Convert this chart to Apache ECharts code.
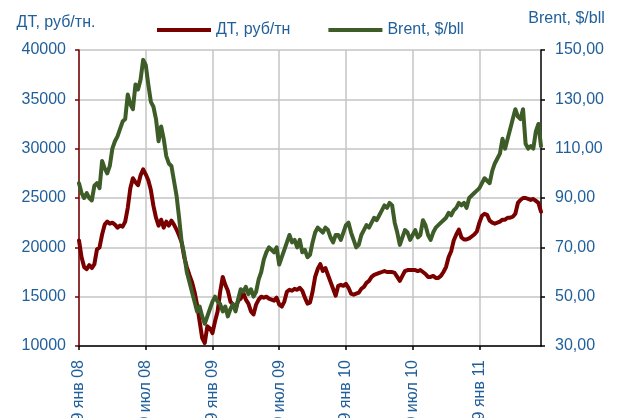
<!DOCTYPE html>
<html>
<head>
<meta charset="utf-8">
<script src="https://cdn.jsdelivr.net/npm/echarts@6/dist/echarts.min.js"></script>
<style>
  html, body { margin: 0; padding: 0; background: #fff; }
  #chart { width: 618px; height: 418px; }
</style>
</head>
<body>
<div id="chart"></div>
<script>
// weekly observations, starting 09.01.2008
const START_DATE = '2008-01-09';
const WEEKS_PER_TICK = 26;

// подписи оси X (каждые полгода)
const xTickLabels = ['09 янв 08', '09 июл 08', '09 янв 09', '09 июл 09', '09 янв 10', '09 июл 10', '09 янв 11'];

// ДТ, руб/тн
const dtValues = [
    20700, 19000, 18000, 17800, 18200, 17900, 18300, 19800, 20000, 21300,
    22300, 22600, 22400, 22500, 22300, 22000, 22200, 22100, 22600, 24000,
    26000, 27000, 26600, 26300, 27300, 27900, 27400, 26800, 25800, 24200,
    23000, 22200, 22800, 22000, 22600, 22200, 22700, 22300, 21800, 21200,
    20500, 19000, 18000, 17200, 16500, 15500, 14200, 12500, 10800, 10300,
    12000, 11800, 11300, 12500, 13500, 15500, 17000, 16200, 15600, 14500,
    14200, 13700, 14600, 14800, 15400, 14700, 14300, 13500, 13200, 14200,
    14700, 15000, 14900, 15000, 14800, 14700, 14600, 14900, 14200, 14000,
    14500, 15500, 15700, 15600, 15800, 15700, 15900, 15600, 14900, 14300,
    14400, 15500, 17000, 17800, 18300, 17600, 17900, 17200, 16500, 15800,
    15100, 16100, 16200, 16100, 16300, 15900, 15300, 15200, 15300, 15400,
    15800, 16000, 16400, 16600, 17000, 17200, 17300, 17400, 17500, 17600,
    17500, 17500, 17500, 17400, 17000, 16600, 17100, 17600, 17700, 17700,
    17700, 17700, 17600, 17700, 17500, 17300, 17000, 17000, 17100, 16900,
    16900, 17100, 17500, 18000, 19000, 19600, 20700, 21300, 21800, 21000,
    20800, 20800, 20900, 21100, 21300, 21600, 22500, 23200, 23400, 23300,
    22700, 22500, 22400, 22500, 22600, 22800, 22800, 23000, 23000, 23100,
    23400, 24500, 24800, 25000, 25000, 24900, 24800, 24900, 24700, 24500,
    23600
];

// Brent, $/bll
const brentValues = [
    96, 92, 90, 92, 90, 89, 95, 96, 94, 105,
    102, 100, 103, 110, 113, 115, 118, 121, 122, 132,
    128, 126, 136, 134, 138, 146, 144, 136, 129, 127,
    122, 113, 119, 114, 107, 104, 103, 97, 91, 82,
    72, 67, 60, 56, 52, 48, 44, 46, 42, 39,
    42, 45, 48, 50, 48, 47, 44, 46, 42, 45,
    47, 44, 49, 53, 52, 54, 51, 53, 50, 52,
    57, 60, 65, 68, 70, 69, 68, 70, 63, 66,
    69, 72, 75, 72, 73, 70, 73, 68, 69, 66,
    67, 72, 76, 78, 77, 76, 78, 77, 74, 72,
    75, 75, 73, 76, 79, 80, 76, 73, 70, 71,
    75, 77, 79, 78, 80, 82, 81, 83, 85, 87,
    86, 88, 87, 80, 76, 71, 74, 77, 76, 73,
    75, 77, 74, 75, 81, 79, 75, 73, 76, 78,
    79, 80, 81, 82, 84, 83, 85, 86, 88, 87,
    88, 86, 90, 91, 92, 93, 94, 96, 98, 97,
    96, 101, 104, 106, 108, 114, 110, 114, 118, 122,
    126, 123, 122, 126, 112, 110, 111, 110, 117, 120,
    111
];

const TEXT_COLOR = '#215f9a';
const DT_COLOR = '#7a0000';
const BRENT_COLOR = '#3d5c27';
const GRID_COLOR = '#c4c4c4';
const FONT = '"Liberation Sans", Arial, sans-serif';
const FONT_SIZE = 16;

function buildDates(start, n) {
    const d0 = new Date(start + 'T00:00:00Z');
    const out = [];
    for (let i = 0; i < n; i++) {
        const d = new Date(d0.getTime() + i * 7 * 86400000);
        out.push(d.toISOString().slice(0, 10));
    }
    return out;
}

const dates = buildDates(START_DATE, dtValues.length);
const onTick = idx => idx % WEEKS_PER_TICK === 0;

const chart = echarts.init(document.getElementById('chart'), null, { renderer: 'canvas' });

chart.setOption({
    animation: false,
    textStyle: { fontFamily: FONT },
    grid: { left: 79, right: 77, top: 50, bottom: 72, outerBoundsMode: 'none', containLabel: false },
    legend: {
        left: 152,
        top: 17,
        icon: 'rect',
        itemWidth: 54,
        itemHeight: 4,
        itemGap: 38,
        textStyle: { color: TEXT_COLOR, fontSize: FONT_SIZE, fontFamily: FONT },
        data: ['ДТ, руб/тн', 'Brent, $/bll']
    },
    xAxis: {
        type: 'category',
        data: dates,
        boundaryGap: false,
        axisLine: { lineStyle: { color: '#000', width: 1.5 } },
        axisTick: { interval: (i) => onTick(i), length: 4, lineStyle: { color: '#000', width: 1.5 } },
        splitLine: { show: true, interval: (i) => onTick(i), lineStyle: { color: GRID_COLOR, width: 1.5 } },
        axisLabel: {
            interval: (i) => onTick(i),
            rotate: 90,
            margin: 14,
            color: TEXT_COLOR,
            fontSize: FONT_SIZE,
            fontFamily: FONT,
            formatter: (v, i) => xTickLabels[Math.round(i / WEEKS_PER_TICK)] || ''
        }
    },
    yAxis: [
        {
            type: 'value',
            min: 10000,
            max: 40000,
            interval: 5000,
            name: 'ДТ, руб/тн.',
            nameLocation: 'end',
            nameGap: 19,
            nameTextStyle: { color: TEXT_COLOR, fontSize: FONT_SIZE, align: 'center', padding: [0, 46, 0, 0] },
            axisLine: { show: true, lineStyle: { color: DT_COLOR, width: 1.5 } },
            axisTick: { show: true, length: 4, lineStyle: { color: DT_COLOR, width: 1.5 } },
            splitLine: { show: true, lineStyle: { color: GRID_COLOR, width: 1.5 } },
            axisLabel: { color: TEXT_COLOR, fontSize: FONT_SIZE, margin: 13, formatter: v => String(v) }
        },
        {
            type: 'value',
            min: 30,
            max: 150,
            interval: 20,
            position: 'right',
            name: 'Brent, $/bll',
            nameLocation: 'end',
            nameGap: 23,
            nameTextStyle: { color: TEXT_COLOR, fontSize: FONT_SIZE, align: 'center', padding: [0, 0, 0, 51] },
            axisLine: { show: true, lineStyle: { color: '#000', width: 1.5 } },
            axisTick: { show: true, length: 4, lineStyle: { color: '#000', width: 1.5 } },
            splitLine: { show: false },
            axisLabel: {
                color: TEXT_COLOR,
                fontSize: FONT_SIZE,
                margin: 14,
                formatter: v => v.toFixed(2).replace('.', ',')
            }
        }
    ],
    series: [
        {
            name: 'ДТ, руб/тн',
            type: 'line',
            yAxisIndex: 0,
            data: dtValues,
            showSymbol: false,
            symbol: 'none',
            color: DT_COLOR,
            lineStyle: { width: 4, color: DT_COLOR, cap: 'round', join: 'round' }
        },
        {
            name: 'Brent, $/bll',
            type: 'line',
            yAxisIndex: 1,
            data: brentValues,
            showSymbol: false,
            symbol: 'none',
            color: BRENT_COLOR,
            lineStyle: { width: 4, color: BRENT_COLOR, cap: 'round', join: 'round' }
        }
    ]
});
</script>
</body>
</html>
